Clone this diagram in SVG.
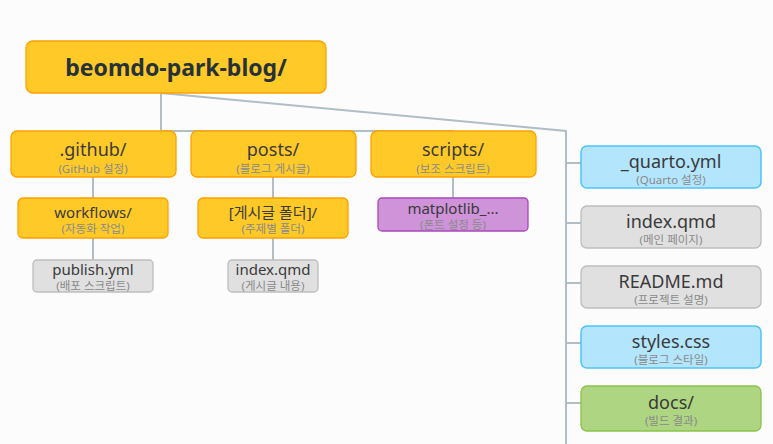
<svg xmlns="http://www.w3.org/2000/svg" width="773" height="444" viewBox="0 0 773 444">
<style>
.conn{fill:none;stroke:#B0BEC5;stroke-width:2}
.or{fill:#FFCA28;stroke:#FFA000;stroke-width:1.3}
.gr{fill:#E0E0E0;stroke:#BDBDBD;stroke-width:1.3}
.bl{fill:#B3E5FC;stroke:#4FC3F7;stroke-width:1.5}
.gn{fill:#AED581;stroke:#8BC34A;stroke-width:1.3}
.pu{fill:#CE93D8;stroke:#AB47BC;stroke-width:1.3}
text{font-family:"Noto Sans","Noto Sans CJK KR",sans-serif;text-anchor:middle}
.t{fill:#3A3A3A}
.s{fill:#8A8A8A;font-size:11.5px}
.l1{font-size:18px}
.l2{font-size:15px}
.r{font-size:18px}
</style>
<rect width="773" height="444" fill="#FCFCFC"/>
<g id="connectors">
<path class="conn" d="M161,93 V131 H453"/>
<path class="conn" d="M161,93 L566,131 V444"/>
<path class="conn" d="M566,163 H581 M566,223 H581 M566,283 H581 M566,343 H581 M566,403 H581"/>
<path class="conn" d="M93,177 V198 M93,238 V260 M273,177 V198 M273,238 V260 M453,177 V198"/>
</g>
<g id="root"><rect class="or" x="26" y="41" width="300" height="52" rx="7"/><text x="176" y="76" font-size="23" font-weight="bold" fill="#263238">beomdo-park-blog/</text></g>
<g id="github"><rect class="or" x="11" y="131" width="165" height="46" rx="6"/><text class="t l1" x="93" y="156">.github/</text><text class="s" x="93" y="173">(GitHub 설정)</text></g>
<g id="posts"><rect class="or" x="191" y="131" width="165" height="46" rx="6"/><text class="t l1" x="273" y="156">posts/</text><text class="s" x="273" y="173">(블로그 게시글)</text></g>
<g id="scripts"><rect class="or" x="371" y="131" width="165" height="46" rx="6"/><text class="t l1" x="453" y="156">scripts/</text><text class="s" x="453" y="173">(보조 스크립트)</text></g>
<g id="workflows"><rect class="or" x="18" y="198" width="150" height="40" rx="5"/><text class="t l2" x="93" y="218">workflows/</text><text class="s" x="93" y="233">(자동화 작업)</text></g>
<g id="postfolder"><rect class="or" x="198" y="198" width="150" height="40" rx="5"/><text class="t l2" x="273" y="218">[게시글 폴더]/</text><text class="s" x="273" y="233">(주제별 폴더)</text></g>
<g id="matplotlib"><rect class="pu" x="378" y="198" width="150" height="33" rx="4"/><text class="t l2" x="453" y="214">matplotlib_...</text><text class="s" x="453" y="229">(폰트 설정 등)</text></g>
<g id="publish"><rect class="gr" x="33" y="260" width="120" height="32" rx="4"/><text class="t l2" x="93" y="275">publish.yml</text><text class="s" x="93" y="290" font-size="11">(배포 스크립트)</text></g>
<g id="postindex"><rect class="gr" x="228" y="260" width="90" height="32" rx="4"/><text class="t l2" x="273" y="275">index.qmd</text><text class="s" x="273" y="290" font-size="11">(게시글 내용)</text></g>
<g id="quarto"><rect class="bl" x="581" y="146" width="180" height="42" rx="6"/><text class="t r" x="671" y="168">_quarto.yml</text><text class="s" x="671" y="184">(Quarto 설정)</text></g>
<g id="index"><rect class="gr" x="581" y="206" width="180" height="42" rx="6"/><text class="t r" x="671" y="228">index.qmd</text><text class="s" x="671" y="244">(메인 페이지)</text></g>
<g id="readme"><rect class="gr" x="581" y="266" width="180" height="42" rx="6"/><text class="t r" x="671" y="288">README.md</text><text class="s" x="671" y="304">(프로젝트 설명)</text></g>
<g id="styles"><rect class="bl" x="581" y="326" width="180" height="42" rx="6"/><text class="t r" x="671" y="348">styles.css</text><text class="s" x="671" y="364">(블로그 스타일)</text></g>
<g id="docs"><rect class="gn" x="581" y="386" width="180" height="45" rx="6"/><text class="t r" x="671" y="409">docs/</text><text class="s" x="671" y="425">(빌드 결과)</text></g>
</svg>
